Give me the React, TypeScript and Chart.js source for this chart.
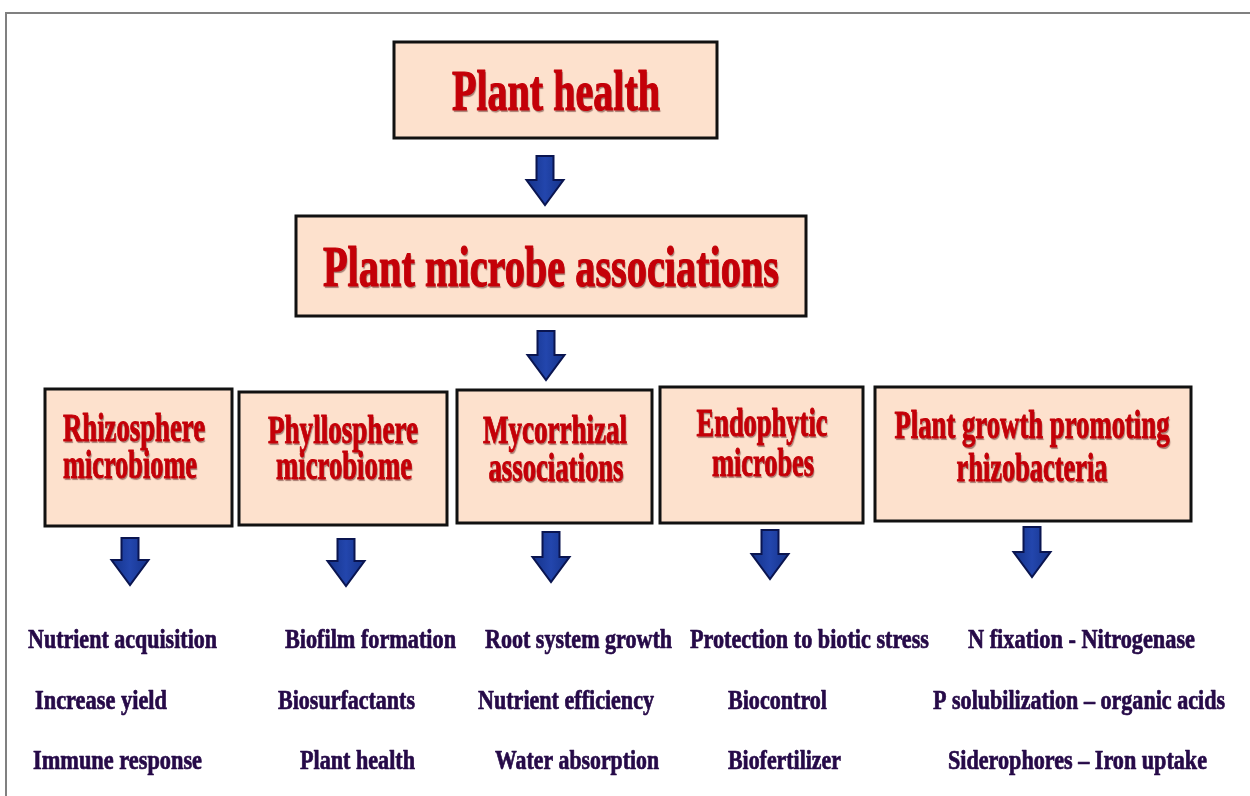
import { useEffect, useRef } from "react";
import { Chart, registerables } from "chart.js";

Chart.register(...registerables);

// ---------- content ----------
const topNode = "Plant health";
const middleNode = "Plant microbe associations";
const categoryLines = [
  ["Rhizosphere", "microbiome"],
  ["Phyllosphere", "microbiome"],
  ["Mycorrhizal", "associations"],
  ["Endophytic", "microbes"],
  ["Plant growth promoting", "rhizobacteria"],
];
const rhizosphereRoles = ["Nutrient acquisition", "Increase yield", "Immune response"];
const phyllosphereRoles = ["Biofilm formation", "Biosurfactants", "Plant health"];
const mycorrhizalRoles = ["Root system growth", "Nutrient efficiency", "Water absorption"];
const endophyticRoles = ["Protection to biotic stress", "Biocontrol", "Biofertilizer"];
const pgprRoles = ["N fixation - Nitrogenase", "P solubilization \u2013 organic acids", "Siderophores \u2013 Iron uptake"];
const roleColumns = [rhizosphereRoles, phyllosphereRoles, mycorrhizalRoles, endophyticRoles, pgprRoles];

// ---------- layout (diagram units mapped through the chart scales) ----------
const topBox = [394, 42, 717, 138];
const midBox = [296, 216, 806, 316];
const categoryBoxes = [
  [45, 389, 232, 526],
  [239, 392, 447, 525],
  [457, 390, 652, 523],
  [660, 387, 863, 523],
  [875, 387, 1191, 521],
];
// [centerX, baseline, fontSize, width]
const topText = [556, 110, 56, 208];
const midText = [551, 286, 57, 456];
const categoryText = [
  [[134, 441, 41, 142], [130, 478, 41, 134]],
  [[343, 443, 41, 150], [344, 479, 41, 136]],
  [[555, 443, 41, 144], [556, 481, 41, 135]],
  [[762, 436, 41, 131], [763, 476, 41, 102]],
  [[1032, 438, 41, 275], [1032, 481, 41, 151]],
];
// arrows: [centerX, top, tip]
const arrows = [
  [545, 156, 205],
  [546, 331, 380],
  [130, 538, 585],
  [346, 539, 586],
  [551, 532, 582],
  [770, 530, 579],
  [1032, 527, 577],
];
const roleBaselines = [648, 709, 769];
// per column, per row: [leftX, width]
const roleSpans = [
  [[28, 189], [35, 132], [33, 169]],
  [[285, 171], [278, 137], [300, 115]],
  [[485, 187], [478, 176], [495, 164]],
  [[690, 239], [728, 99], [728, 113]],
  [[968, 227], [933, 292], [948, 259]],
];

const FONT = '"Liberation Serif", "Times New Roman", serif';

const diagramPlugin = {
  id: "diagram",
  beforeDraw(chart: any) {
    const { ctx, scales } = chart;
    const X = (v: number) => scales.x.getPixelForValue(v);
    const Y = (v: number) => scales.y.getPixelForValue(v);

    ctx.save();
    ctx.fillStyle = "#ffffff";
    ctx.fillRect(0, 0, chart.width, chart.height);

    // frame
    ctx.strokeStyle = "#808080";
    ctx.lineWidth = 2;
    ctx.beginPath();
    ctx.moveTo(X(6), Y(796));
    ctx.lineTo(X(6), Y(13));
    ctx.lineTo(X(1250), Y(13));
    ctx.stroke();

    const drawBox = (b: number[]) => {
      const x0 = X(b[0]), y0 = Y(b[1]), x1 = X(b[2]), y1 = Y(b[3]);
      ctx.fillStyle = "#fde1cd";
      ctx.fillRect(x0, y0, x1 - x0, y1 - y0);
      ctx.strokeStyle = "#111111";
      ctx.lineWidth = 3;
      ctx.strokeRect(x0, y0, x1 - x0, y1 - y0);
    };

    const fitText = (text: string, cx: number, by: number, size: number, w: number, color: string, shadow: boolean, bold: number) => {
      ctx.save();
      ctx.font = `bold ${size}px ${FONT}`;
      const m = ctx.measureText(text).width;
      const pw = X(cx + w / 2) - X(cx - w / 2);
      const sx = pw / m;
      ctx.translate(X(cx), Y(by));
      ctx.scale(sx, 1);
      ctx.textAlign = "center";
      ctx.textBaseline = "alphabetic";
      if (shadow) {
        ctx.shadowColor = "rgba(60,0,0,0.45)";
        ctx.shadowOffsetX = 1;
        ctx.shadowOffsetY = 1.5;
        ctx.shadowBlur = 1;
      }
      ctx.fillStyle = color;
      ctx.fillText(text, 0, 0);
      ctx.shadowColor = "transparent";
      ctx.strokeStyle = color;
      ctx.lineWidth = bold;
      ctx.lineJoin = "round";
      ctx.strokeText(text, 0, 0);
      ctx.restore();
    };

    const drawArrow = (a: number[]) => {
      const cx = X(a[0]), top = Y(a[1]), tip = Y(a[2]);
      const shaft = 8.5, head = 18.5, headLen = 25;
      const sh = tip - headLen;
      ctx.beginPath();
      ctx.moveTo(cx - shaft, top);
      ctx.lineTo(cx + shaft, top);
      ctx.lineTo(cx + shaft, sh);
      ctx.lineTo(cx + head, sh);
      ctx.lineTo(cx, tip);
      ctx.lineTo(cx - head, sh);
      ctx.lineTo(cx - shaft, sh);
      ctx.closePath();
      const g = ctx.createLinearGradient(cx - head, 0, cx + head, 0);
      g.addColorStop(0, "#15338a");
      g.addColorStop(0.5, "#2346ad");
      g.addColorStop(1, "#15338a");
      ctx.fillStyle = g;
      ctx.fill();
      ctx.strokeStyle = "#0a1550";
      ctx.lineWidth = 2;
      ctx.lineJoin = "miter";
      ctx.stroke();
    };

    // boxes
    drawBox(topBox);
    drawBox(midBox);
    categoryBoxes.forEach(drawBox);

    // box texts
    const red = "#c40008";
    fitText(topNode, topText[0], topText[1], topText[2], topText[3], red, true, 1.2);
    fitText(middleNode, midText[0], midText[1], midText[2], midText[3], red, true, 1.2);
    categoryLines.forEach((lines, i) => {
      lines.forEach((line, j) => {
        const t = categoryText[i][j];
        fitText(line, t[0], t[1], t[2], t[3], red, true, 1);
      });
    });

    // arrows
    arrows.forEach(drawArrow);

    // roles
    roleColumns.forEach((col, i) => {
      col.forEach((label, j) => {
        const [lx, w] = roleSpans[i][j];
        fitText(label, lx + w / 2, roleBaselines[j], 27, w, "#260a48", false, 0.7);
      });
    });

    ctx.restore();
  },
};

export default function App() {
  const ref = useRef<HTMLCanvasElement | null>(null);

  useEffect(() => {
    if (!ref.current) return;
    const chart = new Chart(ref.current, {
      type: "scatter",
      data: { datasets: [{ data: [], pointRadius: 0 }] },
      options: {
        animation: false,
        responsive: false,
        maintainAspectRatio: false,
        layout: { padding: 0 },
        plugins: { legend: { display: false }, tooltip: { enabled: false }, title: { display: false } },
        scales: {
          x: { type: "linear", min: 0, max: 1250, display: false },
          y: { type: "linear", min: 0, max: 796, reverse: true, display: false },
        },
      },
      plugins: [diagramPlugin],
    });
    return () => chart.destroy();
  }, []);

  return (
    <div style={{ position: "absolute", left: 0, top: 0, width: 1250, height: 796, background: "#fff" }}>
      <canvas ref={ref} width={1250} height={796} style={{ display: "block" }} />
    </div>
  );
}
